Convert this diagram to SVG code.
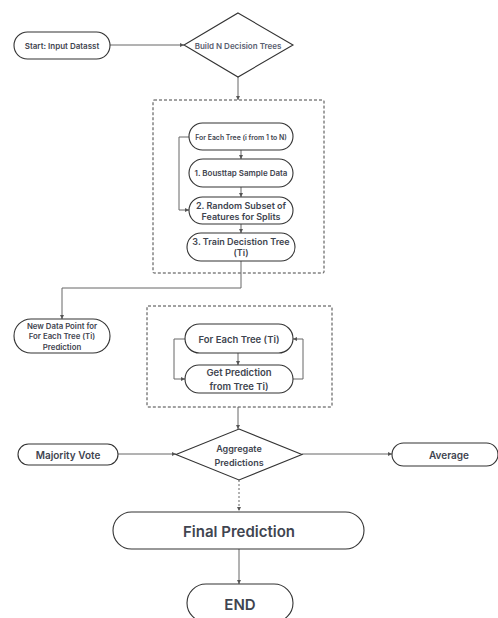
<svg xmlns="http://www.w3.org/2000/svg" width="498" height="618" viewBox="0 0 498 618">
<defs>
<marker id="ah" viewBox="0 0 6 6" refX="6" refY="3" markerWidth="4" markerHeight="4" orient="auto-start-reverse">
<path d="M0,0 L6,3 L0,6 z" fill="#555"/>
</marker>
<style>
.n{fill:#fff;stroke:#333;stroke-width:1.1}
.t{font-family:Inter,"Liberation Sans",sans-serif;font-weight:600;fill:#3f4550;text-anchor:middle;dominant-baseline:central}
.c{fill:none;stroke:#666;stroke-width:1;marker-end:url(#ah)}
.box{fill:none;stroke:#444;stroke-width:1;stroke-dasharray:3,2}
</style>
</defs>
<rect width="498" height="618" fill="#fff"/>
<g id="containers">
<rect class="box" x="153" y="100" width="171" height="173" rx="1"/>
<rect class="box" x="147" y="306" width="185" height="101" rx="1"/>
</g>
<g id="connectors">
<path class="c" d="M110,45 H184"/>
<path class="c" d="M238,77 V100"/>
<path class="c" d="M241,150 V159"/>
<path class="c" d="M241,187 V197"/>
<path class="c" d="M241,224 V233"/>
<path class="c" d="M189,137 H179 V210 H189"/>
<path class="c" d="M241,261 V288 H62 V319"/>
<path class="c" d="M238,353 V365"/>
<path class="c" d="M185,339 H174 V379 H185"/>
<path class="c" d="M293,379 H303 V339 H293"/>
<path class="c" d="M238,407 V429"/>
<path class="c" d="M118,454 H176"/>
<path class="c" d="M302,454 H392"/>
<path class="c" d="M239,480 V511" stroke-dasharray="2,2"/>
<path class="c" d="M239,549 V584"/>
</g>
<g id="start">
<rect class="n" x="14" y="32" width="96" height="27" rx="13.5"/>
<text class="t" x="62" y="45.5" font-size="8">Start: Input Datasst</text>
</g>
<g id="build">
<polygon class="n" points="238,13 293,45 238,77 184,45"/>
<text class="t" x="238" y="45.5" font-size="8" fill="#596070" style="fill:#596070">Build N Decision Trees</text>
</g>
<g id="foreach1">
<rect class="n" x="189" y="123" width="104" height="27" rx="13.5"/>
<text class="t" x="241" y="137" font-size="6.9">For Each Tree (i from 1 to N)</text>
</g>
<g id="bootstrap">
<rect class="n" x="189" y="159" width="104" height="28" rx="14"/>
<text class="t" x="241" y="173" font-size="8">1. Bousttap Sample Data</text>
</g>
<g id="subset">
<rect class="n" x="189" y="197" width="104" height="27" rx="13.5"/>
<text class="t" x="241" y="205" font-size="9">2. Random Subset of</text>
<text class="t" x="241" y="216" font-size="9">Features for Splits</text>
</g>
<g id="train">
<rect class="n" x="187" y="233" width="108" height="28" rx="14"/>
<text class="t" x="241" y="241.5" font-size="9">3. Train Decistion Tree</text>
<text class="t" x="241" y="252.5" font-size="9">(Ti)</text>
</g>
<g id="newdata">
<rect class="n" x="14" y="319" width="96" height="34" rx="17"/>
<text class="t" x="62" y="325.5" font-size="7.8">New Data Point for</text>
<text class="t" x="62" y="336" font-size="7.8">For Each Tree (Ti)</text>
<text class="t" x="62" y="346.5" font-size="7.8">Prediction</text>
</g>
<g id="foreach2">
<rect class="n" x="185" y="324" width="108" height="29" rx="14.5"/>
<text class="t" x="239" y="339" font-size="9.5">For Each Tree (Ti)</text>
</g>
<g id="getpred">
<rect class="n" x="185" y="365" width="108" height="28" rx="14"/>
<text class="t" x="239" y="372.5" font-size="9.5">Get Prediction</text>
<text class="t" x="239" y="386" font-size="9.5">from Tree Ti)</text>
</g>
<g id="aggregate">
<polygon class="n" points="239,429 302,454.5 239,480 176,454.5"/>
<text class="t" x="239" y="448" font-size="9">Aggregate</text>
<text class="t" x="239" y="462" font-size="9">Predictions</text>
</g>
<g id="majority">
<rect class="n" x="18" y="444" width="100" height="21" rx="10.5"/>
<text class="t" x="68" y="455" font-size="10">Majority Vote</text>
</g>
<g id="average">
<rect class="n" x="392" y="443" width="106" height="23" rx="11.5"/>
<text class="t" x="449" y="455" font-size="10">Average</text>
</g>
<g id="final">
<rect class="n" x="113" y="512" width="251" height="37" rx="18.5"/>
<text class="t" x="239" y="531" font-size="15">Final Prediction</text>
</g>
<g id="end">
<rect class="n" x="187" y="584" width="106" height="38" rx="19"/>
<text class="t" x="240" y="604" font-size="15">END</text>
</g>
</svg>
